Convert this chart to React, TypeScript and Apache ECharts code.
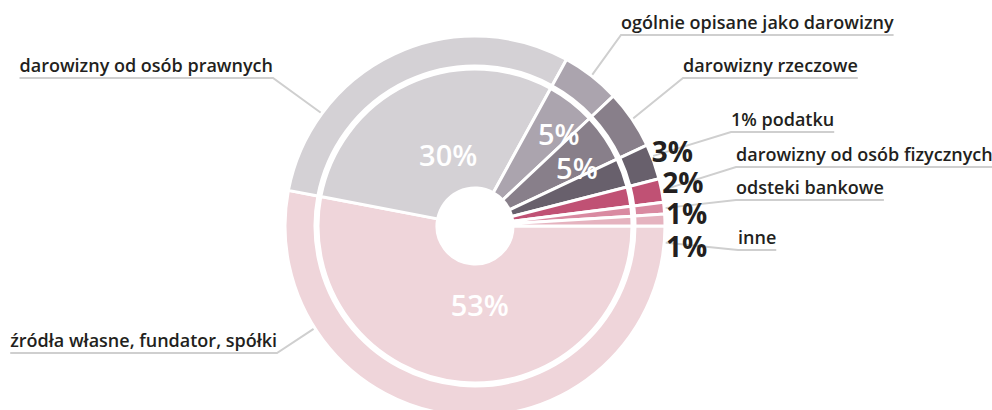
import React, { useEffect, useRef } from "react";
import * as echarts from "echarts";

const CATEGORIES = [
  "źródła własne, fundator, spółki",
  "darowizny od osób prawnych",
  "ogólnie opisane jako darowizny",
  "darowizny rzeczowe",
  "1% podatku",
  "darowizny od osób fizycznych",
  "odsteki bankowe",
  "inne",
];
const VALUES = [53, 30, 5, 5, 3, 2, 1, 1];
const COLORS = ["#efd5da", "#d4d1d5", "#aba4ae", "#887f8a", "#68606c", "#c05174", "#d98aa1", "#e5b3bf"];
// which percentage label group each slice uses
const BIG_INSIDE = [0, 1];
const MID_INSIDE = [2, 3];
const OUTSIDE_PCT = [4, 5, 6, 7];

const CX = 475;
const CY = 226;
const R_HOLE = 38;
const R_RING = 157;
const R_OUT_IN = 160;
const R_OUT = 190;

// label placement (layout only)
const NAME_LAYOUT = [
  { side: "left", x: 277, uy: 353, anchorDeg: 212.5 },
  { side: "left", x: 273, uy: 78, anchorDeg: 143.7 },
  { side: "right", x: 621, uy: 35 },
  { side: "right", x: 683, uy: 78 },
  { side: "right", x: 731, uy: 132, anchorDeg: 21.5 },
  { side: "right", x: 736, uy: 167 },
  { side: "right", x: 736, uy: 200 },
  { side: "right", x: 738, uy: 250, anchorDeg: -5 },
];
// small nudges of percentage labels [dx, dy]
const PCT_NUDGE: Record<number, [number, number]> = {
  0: [12, 2],
  1: [6, -2],
  2: [9, 4],
  3: [1, 10],
  4: [-4, -10],
  5: [-2, -11],
  6: [-1, -12],
  7: [-1, -11],
};

const FONT = "'Open Sans', 'Noto Sans', sans-serif";
const TEXT = "#231f20";
const LINE = "#cfcfcf";

export default function App() {
  const ref = useRef<HTMLDivElement>(null);
  useEffect(() => {
    if (!ref.current) return;
    const chart = echarts.init(ref.current, null, { renderer: "svg" });
    const baseData = CATEGORIES.map((name, i) => ({
      name,
      value: VALUES[i],
      itemStyle: { color: COLORS[i] },
    }));
    const transparent = { color: "rgba(0,0,0,0)", borderWidth: 0 };
    const pctData = (idx: number[]) =>
      CATEGORIES.map((name, i) => ({
        name,
        value: VALUES[i],
        label: { show: idx.includes(i) },
      }));
    const nudge = (params: any) => {
      const n = PCT_NUDGE[params.dataIndex] || [0, 0];
      return { dx: n[0], dy: n[1] };
    };
    const insideLabel = {
      position: "inside",
      formatter: "{c}%",
      color: "#ffffff",
      fontFamily: FONT,
      fontSize: 29,
      fontWeight: 600,
    };

    chart.setOption({
      animation: false,
      series: [
        {
          type: "pie",
          center: [CX, CY],
          radius: [R_HOLE, R_RING],
          startAngle: 0,
          clockwise: true,
          silent: true,
          label: { show: false },
          labelLine: { show: false },
          itemStyle: { borderColor: "#ffffff", borderWidth: 3 },
          data: baseData,
        },
        {
          type: "pie",
          center: [CX, CY],
          radius: [R_OUT_IN, R_OUT],
          startAngle: 0,
          clockwise: true,
          silent: true,
          avoidLabelOverlap: false,
          itemStyle: { borderColor: "#ffffff", borderWidth: 3 },
          label: {
            show: true,
            position: "outside",
            formatter: "{b}",
            color: TEXT,
            fontFamily: FONT,
            fontSize: 18,
            fontWeight: 600,
            lineHeight: 20,
          },
          labelLine: {
            show: true,
            length: 20,
            length2: 10,
            lineStyle: { color: LINE, width: 2 },
          },
          labelLayout: (params: any) => {
            const L = NAME_LAYOUT[params.dataIndex];
            const w = params.labelRect.width;
            let a = params.labelLinePoints ? params.labelLinePoints[0] : [CX, CY];
            if (L.anchorDeg !== undefined) {
              const t = (L.anchorDeg * Math.PI) / 180;
              a = [CX + R_OUT * Math.cos(t), CY - R_OUT * Math.sin(t)];
            }
            const right = L.side === "right";
            const ex = right ? L.x + w : L.x - w;
            return {
              x: L.x,
              y: L.uy - 3,
              align: right ? "left" : "right",
              verticalAlign: "bottom",
              labelLinePoints: [a, [L.x, L.uy], [ex, L.uy]],
            };
          },
          data: baseData,
        },
        {
          type: "pie",
          center: [CX, CY],
          radius: [R_OUT_IN, R_OUT],
          startAngle: 0,
          clockwise: true,
          silent: true,
          avoidLabelOverlap: true,
          itemStyle: transparent,
          label: {
            position: "outside",
            formatter: "{c}%",
            color: TEXT,
            fontFamily: FONT,
            fontSize: 28,
            fontWeight: 700,
            lineHeight: 30,
            distanceToLabelLine: 0,
          },
          labelLine: { show: false, length: 2, length2: 0 },
          labelLayout: nudge,
          data: pctData(OUTSIDE_PCT),
        },
        {
          type: "pie",
          center: [CX, CY],
          radius: [R_HOLE, 110],
          startAngle: 0,
          clockwise: true,
          silent: true,
          avoidLabelOverlap: false,
          itemStyle: transparent,
          label: insideLabel,
          labelLine: { show: false },
          labelLayout: nudge,
          data: pctData(BIG_INSIDE),
        },
        {
          type: "pie",
          center: [CX, CY],
          radius: [80, 158],
          startAngle: 0,
          clockwise: true,
          silent: true,
          avoidLabelOverlap: false,
          itemStyle: transparent,
          label: insideLabel,
          labelLine: { show: false },
          labelLayout: nudge,
          data: pctData(MID_INSIDE),
        },
      ],
    });
    return () => chart.dispose();
  }, []);
  return (
    <div
      ref={ref}
      style={{ position: "absolute", left: 0, top: 0, width: 992, height: 410, background: "#ffffff" }}
    />
  );
}
